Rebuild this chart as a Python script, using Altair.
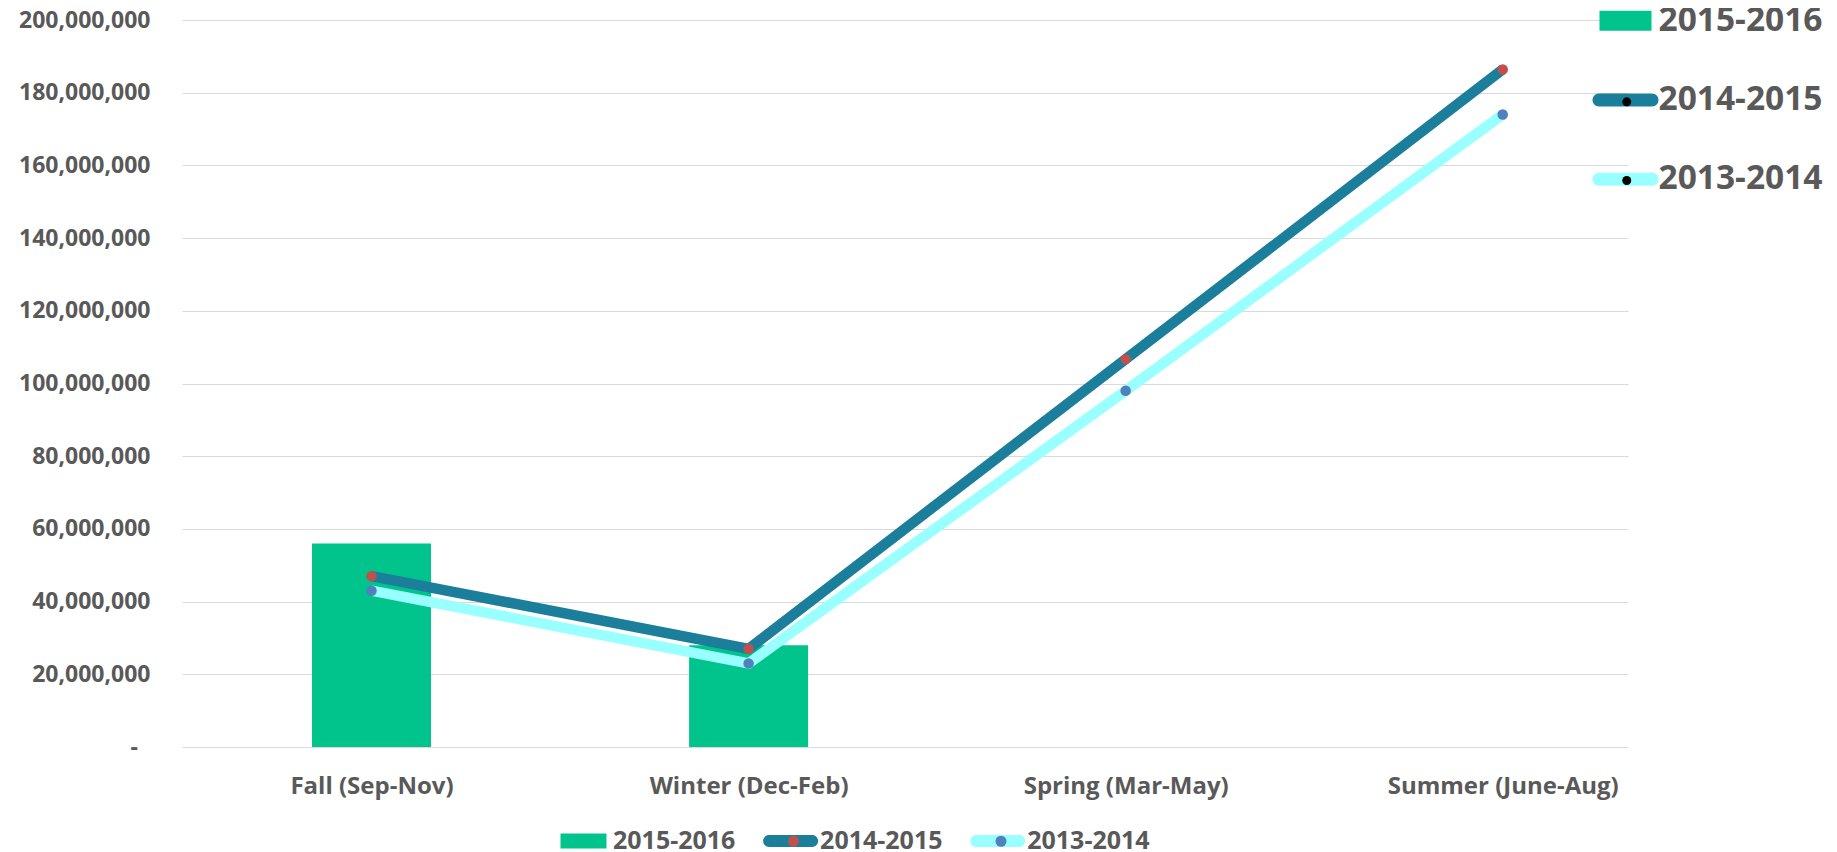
import altair as alt
import pandas as pd

# ---- data ----
seasons = ["Fall (Sep-Nov)", "Winter (Dec-Feb)", "Spring (Mar-May)", "Summer (June-Aug)"]
series_names = ["2015-2016", "2014-2015", "2013-2014"]
values_2015_2016 = [56_000_000, 28_000_000, None, None]
values_2014_2015 = [47_000_000, 27_000_000, 106_700_000, 186_400_000]
values_2013_2014 = [43_000_000, 23_000_000, 98_000_000, 174_000_000]
y_ticks = [0, 20_000_000, 40_000_000, 60_000_000, 80_000_000, 100_000_000,
           120_000_000, 140_000_000, 160_000_000, 180_000_000, 200_000_000]

# ---- styles ----
GREEN = "#00C48C"
DARK = "#1B7F9C"
CYAN = "#99FFFF"
RED = "#C0504D"
BLUE = "#4F81BD"
TEXT = "#595959"
GRID = "#D9D9D9"
FONT = "Open Sans"
series_colors = [GREEN, DARK, CYAN]

rows = []
for name, vals in zip(series_names, [values_2015_2016, values_2014_2015, values_2013_2014]):
    for i, (s, v) in enumerate(zip(seasons, vals)):
        if v is not None:
            rows.append({"season": s, "series": name, "value": v, "idx": i})
df = pd.DataFrame(rows)

base = alt.Chart(df)

season_array = "[" + ",".join("'" + s + "'" for s in seasons) + "]"
x = alt.X(
    "idx:Q",
    scale=alt.Scale(domain=[-0.5026, 3.3322], nice=False, zero=False, padding=0),
    axis=alt.Axis(
        title=None, values=list(range(len(seasons))), labelExpr=season_array + "[datum.value]",
        labelAngle=0, ticks=False, domain=False, grid=False, labelFlush=False, labelOverlap=False,
        labelFont=FONT, labelFontSize=24, labelFontWeight="bold", labelColor=TEXT,
        labelPadding=27, labelLimit=400,
    ),
)
y = alt.Y(
    "value:Q",
    scale=alt.Scale(domain=[0, 200_000_000], nice=False),
    axis=alt.Axis(
        title=None, values=y_ticks, ticks=False, domain=False,
        grid=True, gridColor=GRID, gridWidth=1.2,
        labelExpr="datum.value == 0 ? '-' : format(datum.value, ',')",
        labelFont=FONT, labelFontSize=23, labelFontWeight="bold", labelColor=TEXT,
        labelPadding={"condition": {"test": "datum.value == 0", "value": 44.5}, "value": 32},
        labelLimit=400,
    ),
)

bars = base.mark_bar(color=GREEN, size=119).encode(x=x, y=y).transform_filter(
    alt.datum.series == "2015-2016")
line_cyan = base.mark_line(color=CYAN, strokeWidth=10.5).encode(
    x=x, y=y).transform_filter(alt.datum.series == "2013-2014")
pts_blue = base.mark_point(filled=True, color=BLUE, size=110, opacity=1).encode(
    x=x, y=y).transform_filter(alt.datum.series == "2013-2014")
line_dark = base.mark_line(color=DARK, strokeWidth=10.5).encode(
    x=x, y=y).transform_filter(alt.datum.series == "2014-2015")
pts_red = base.mark_point(filled=True, color=RED, size=110, opacity=1).encode(
    x=x, y=y).transform_filter(alt.datum.series == "2014-2015")

# ---- legends (legend-only layers, no marks drawn; independent colour/shape scales) ----
RECT_T = "M-0.788,-0.303H0.788V0.303H-0.788Z"
CAPS_T = ("M-0.803,-0.197H0.803A0.197,0.197 0 0 1 0.803,0.197"
          "H-0.803A0.197,0.197 0 0 1 -0.803,-0.197Z")
RECT_B = "M-0.821,-0.268H0.821V0.268H-0.821Z"
CAPS_B = ("M-0.768,-0.214H0.768A0.214,0.214 0 0 1 0.768,0.214"
          "H-0.768A0.214,0.214 0 0 1 -0.768,-0.214Z")

T_opts = dict(
    orient="none", legendX=1408.5, legendY=-32.2, title=None,
    symbolSize=4356, symbolStrokeWidth=0, symbolOffset=2,
    labelFont=FONT, labelFontSize=33.5, labelFontWeight="bold", labelColor=TEXT,
    labelOffset=0, rowPadding=29.25, padding=0, labelLimit=400,
)
leg_T = base.mark_point(filled=True, opacity=1).encode(
    color=alt.Color("series:N", scale=alt.Scale(domain=series_names, range=series_colors),
                    legend=alt.Legend(**T_opts)),
    shape=alt.Shape("series:N", scale=alt.Scale(domain=series_names, range=[RECT_T, CAPS_T, CAPS_T]),
                    legend=alt.Legend(**T_opts)),
).transform_filter("false")

leg_T_dots = base.mark_point(filled=True, opacity=1).encode(
    color=alt.Color(
        "series:N", scale=alt.Scale(domain=series_names, range=["transparent", "black", "black"]),
        legend=alt.Legend(
            orient="none", legendX=1428, legendY=-13.6, title=None, labelExpr="''",
            symbolType="circle", symbolSize=81, symbolStrokeWidth=0,
            labelFont=FONT, labelFontSize=33.5, labelFontWeight="bold",
            labelOffset=0, rowPadding=43.7, padding=0,
        ),
    ),
).transform_filter("false")

B_opts = dict(
    orient="none", direction="horizontal", legendX=373.5, legendY=793, title=None,
    symbolSize=3136, symbolStrokeWidth=0,
    labelFont=FONT, labelFontSize=25, labelFontWeight="bold", labelColor=TEXT,
    labelOffset=1.5, columnPadding=27.1, padding=0, labelLimit=400,
)
leg_B = base.mark_point(filled=True, opacity=1).encode(
    color=alt.Color("series:N", scale=alt.Scale(domain=series_names, range=series_colors),
                    legend=alt.Legend(**B_opts)),
    shape=alt.Shape("series:N", scale=alt.Scale(domain=series_names, range=[RECT_B, CAPS_B, CAPS_B]),
                    legend=alt.Legend(**B_opts)),
).transform_filter("false")

leg_B_dots = base.mark_point(filled=True, opacity=1).encode(
    color=alt.Color(
        "series:N", scale=alt.Scale(domain=series_names, range=["transparent", RED, BLUE]),
        legend=alt.Legend(
            orient="none", direction="horizontal", legendX=391.5, legendY=808.5, title=None,
            labelExpr="''", symbolType="circle", symbolSize=121, symbolStrokeWidth=0,
            labelFont=FONT, labelFontSize=25, labelFontWeight="bold",
            labelOffset=1.5, columnPadding=180.5, padding=0,
        ),
    ),
).transform_filter("false")

chart = alt.layer(
    bars, line_cyan, pts_blue, line_dark, pts_red, leg_T, leg_T_dots, leg_B, leg_B_dots
).resolve_scale(color="independent", shape="independent").properties(
    width=1446, height=727,
    padding={"left": 174, "top": 12, "right": 201, "bottom": 105},
    autosize=alt.AutoSizeParams(type="none"),
).configure_view(stroke=None)

chart.save("out.html", embed_options={"renderer": "svg", "actions": False})
